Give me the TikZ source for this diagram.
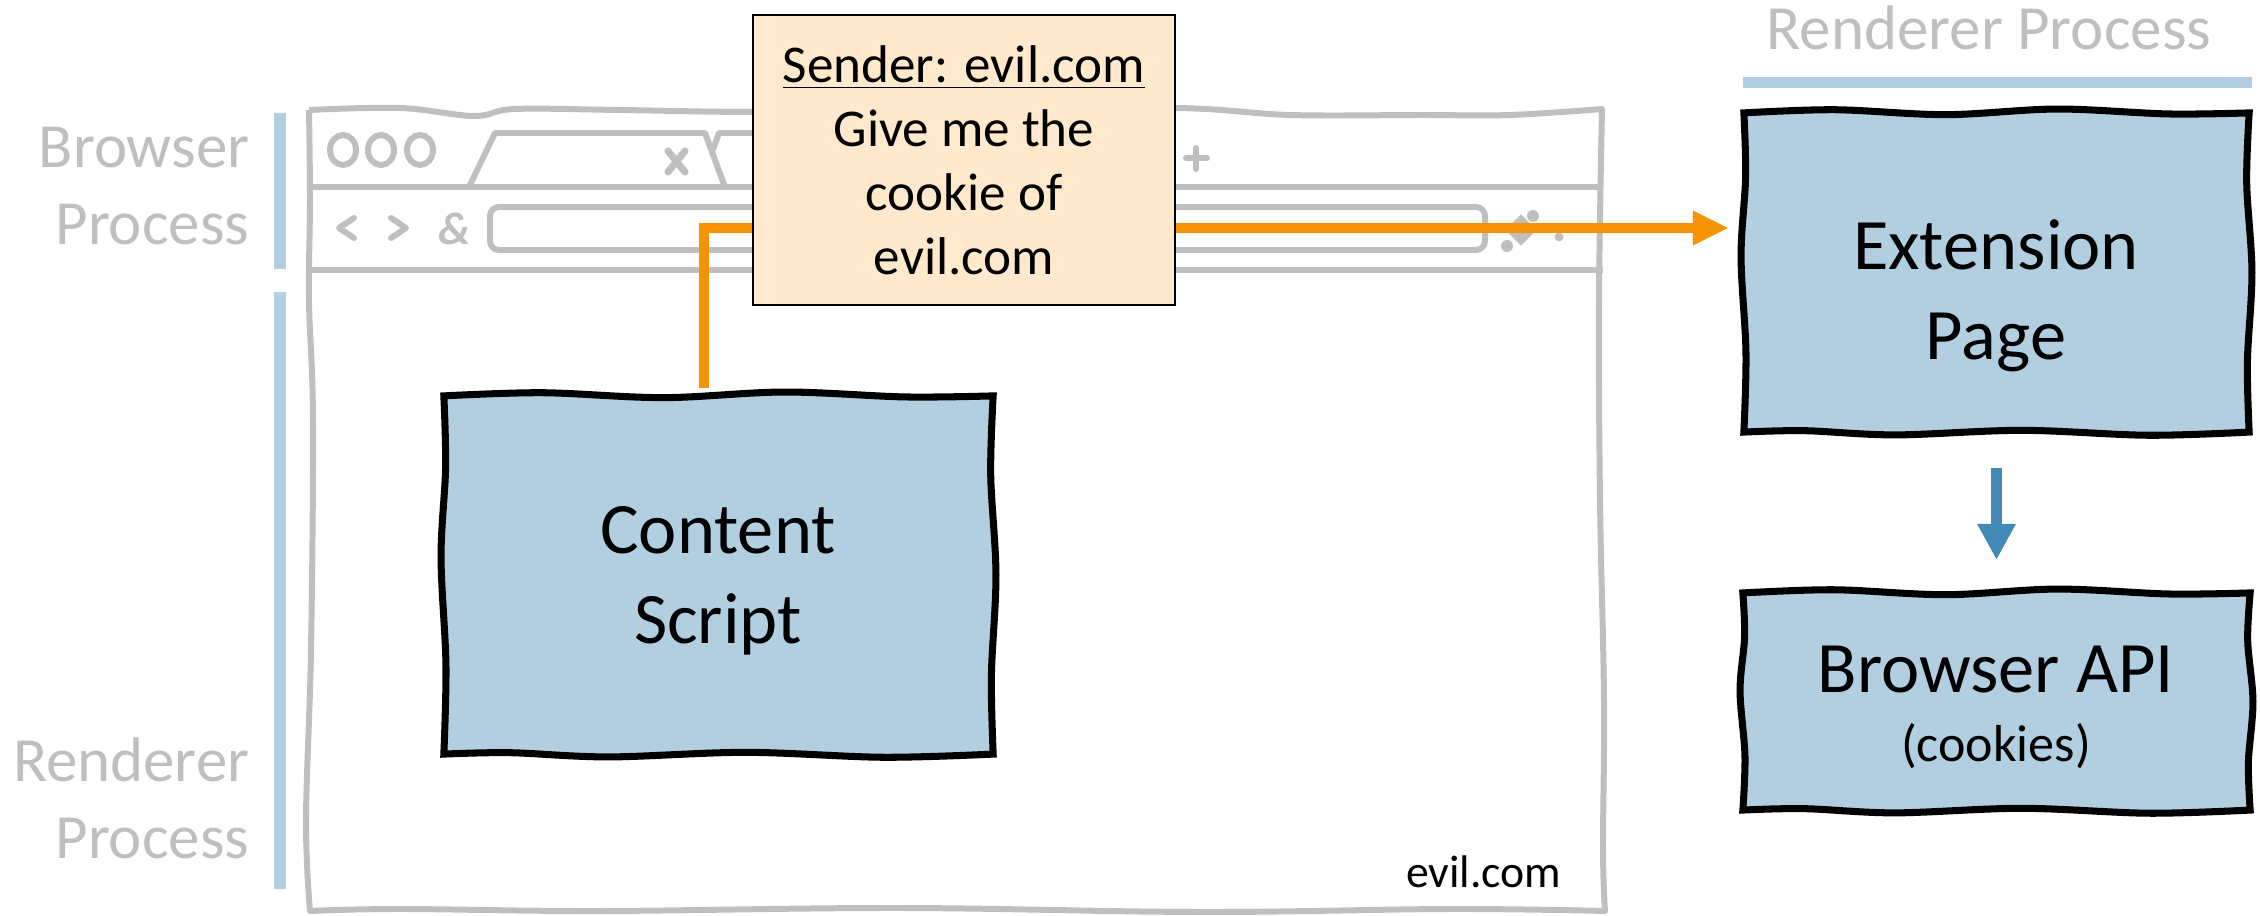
\documentclass[tikz,border=0pt]{standalone}
\usepackage{fontspec}
\setmainfont{Carlito}
\usetikzlibrary{arrows.meta,calc}

\definecolor{sketchgray}{HTML}{BFBFBF}
\definecolor{boxblue}{HTML}{B2CFE1}
\definecolor{arrowblue}{HTML}{448AB7}
\definecolor{msgorange}{HTML}{F59300}
\definecolor{msgfill}{HTML}{FFE9CC}

% hand-drawn looking outline around a (frame-only) node
\newcommand\sketchoutline[2]{%
  \path[#2]
    plot[smooth,tension=.55] coordinates {(#1.north west)
      ($(#1.north west)!.18!(#1.north east)+(0,.9pt)$)
      ($(#1.north west)!.40!(#1.north east)+(0,-.5pt)$)
      ($(#1.north west)!.62!(#1.north east)+(0,1.1pt)$)
      ($(#1.north west)!.84!(#1.north east)+(0,-.3pt)$)
      (#1.north east)}
    -- plot[smooth,tension=.55] coordinates {(#1.north east)
      ($(#1.north east)!.22!(#1.south east)+(-.7pt,0)$)
      ($(#1.north east)!.50!(#1.south east)+(.8pt,0)$)
      ($(#1.north east)!.78!(#1.south east)+(-.5pt,0)$)
      (#1.south east)}
    -- plot[smooth,tension=.55] coordinates {(#1.south east)
      ($(#1.south east)!.20!(#1.south west)+(0,-.9pt)$)
      ($(#1.south east)!.45!(#1.south west)+(0,.5pt)$)
      ($(#1.south east)!.70!(#1.south west)+(0,-.8pt)$)
      ($(#1.south east)!.88!(#1.south west)+(0,.4pt)$)
      (#1.south west)}
    -- plot[smooth,tension=.55] coordinates {(#1.south west)
      ($(#1.south west)!.25!(#1.north west)+(.6pt,0)$)
      ($(#1.south west)!.55!(#1.north west)+(-.8pt,0)$)
      ($(#1.south west)!.80!(#1.north west)+(.5pt,0)$)
      (#1.north west)}
    -- cycle;}

\tikzset{
  winline/.style={draw=sketchgray, line width=1.7pt},
  icon/.style={draw=sketchgray, line width=1.7pt, line cap=round, line join=round},
  areanode/.style={inner sep=0pt, outer sep=0pt, draw=none},
  sketchfill/.style={fill=boxblue, draw=black, line width=2pt},
  boxtext/.style={align=center, inner sep=0pt, font=\fontsize{20.6}{25.6}\selectfont},
  subtext/.style={inner sep=0pt, font=\fontsize{14.8}{17.8}\selectfont},
  proclabel/.style={text=sketchgray, inner sep=0pt, font=\fontsize{17.9}{21.9}\selectfont},
  procbar/.style={fill=boxblue},
  msgbox/.style={fill=msgfill, draw=black, line width=0.5pt, align=center,
    minimum width=4.22cm, minimum height=2.9cm, inner sep=0pt,
    font=\fontsize{15.1}{18.2}\selectfont},
  msgflow/.style={draw=msgorange, line width=3.1pt,
    -{Triangle[length=0.36cm,width=0.32cm]}},
  callflow/.style={draw=arrowblue, line width=3.1pt,
    -{Triangle[length=0.36cm,width=0.36cm]}},
}

\begin{document}
\begin{tikzpicture}[x=0.01cm, y=-0.01cm]
\useasboundingbox (0,0) rectangle (2260,916);

% process frames
\node[areanode, minimum width=5.49cm, minimum height=3.58cm] (cs) at (718.5,575) {};
\node[areanode, minimum width=5.05cm, minimum height=3.19cm] (ext) at (1996.5,272.5) {};
\node[areanode, minimum width=5.07cm, minimum height=2.17cm] (api) at (1996.5,701.5) {};

% process bars and labels
\fill[procbar] (274,113) rectangle (286,269);
\fill[procbar] (274,292) rectangle (286,889);
\fill[procbar] (1743,77) rectangle (2252,88);
\node[proclabel, align=right, anchor=east] (bp) at (250,186) {Browser\\Process};
\node[proclabel, align=right, anchor=east] (rp-left) at (250,798) {Renderer\\Process};
\node[proclabel, anchor=base] (rp-top) at (1989,50) {Renderer Process};

% browser window
\draw[winline, line join=round]
  plot[smooth,tension=.6] coordinates {(309,110) (400,108) (474,116) (515,109) (620,110) (760,112) (960,110) (1175,108) (1290,115) (1420,115) (1510,115) (1602,109)}
  -- plot[smooth,tension=.6] coordinates {(1602,109) (1599,300) (1600,500) (1604,700) (1603,850) (1605,911)}
  -- plot[smooth,tension=.6] coordinates {(1605,911) (1450,909) (1200,912) (900,908) (600,911) (400,909) (310,911)}
  -- plot[smooth,tension=.6] coordinates {(310,911) (306,820) (311,650) (313,420) (309,300) (310,200) (309,110)};
\draw[winline] (309,187) -- (1603,187);
\draw[winline] (309,270) -- (1603,270);

% window buttons
\draw[winline] (343,150) ellipse [x radius=0.13cm, y radius=0.15cm];
\draw[winline] (381,150) ellipse [x radius=0.13cm, y radius=0.15cm];
\draw[winline] (420,150) ellipse [x radius=0.13cm, y radius=0.15cm];

% tabs
\draw[winline, line join=round] (712,152) -- (719,133) -- (760,133);
\draw[winline, line join=round] (469,187) -- (495,133) -- (705,133) -- (725,187);
\draw[icon, line width=2pt] (668,151) -- (685,172);
\draw[icon, line width=2pt] (685,151) -- (668,172);
\draw[icon] (1196,148) -- (1196,169);
\draw[icon] (1186,158) -- (1207,158);

% navigation and address bar
\draw[icon] (354,218) -- (339,228) -- (354,238);
\draw[icon] (391,218) -- (406,228) -- (391,238);
\node[text=sketchgray, inner sep=0pt, font=\fontsize{13}{14}\selectfont\bfseries\itshape] (reload) at (455,229) {\&};
\draw[winline, rounded corners=0.09cm] (490,207) rectangle (1485,250);
\fill[sketchgray, rotate around={45:(1521,230)}] (1510,219) rectangle (1532,241);
\fill[sketchgray] (1533,216) circle (0.06cm);
\fill[sketchgray] (1507,246) circle (0.06cm);
\fill[sketchgray] (1559,237) circle (0.045cm);

% message from the content script to the extension page
\coordinate (bend) at (704,228);
\draw[msgflow, shorten <=0.08cm, shorten >=0.15cm] (cs.north -| bend) -- (bend) -- (bend -| ext.west);
\node[msgbox] (msg) at (964,160) {\underline{Sender: evil.com}\\Give me the\\cookie of\\evil.com};

% boxes
\sketchoutline{cs}{sketchfill}
\sketchoutline{ext}{sketchfill}
\sketchoutline{api}{sketchfill}
\node[boxtext] (cs-text) at (718,581) {Content\\Script};
\node[boxtext] (ext-text) at (1996,296) {Extension\\Page};
\node[boxtext, anchor=base] (api-text) at (1996,693) {Browser API};
\node[subtext, anchor=base] (api-sub) at (1996,762) {(cookies)};

\draw[callflow, shorten <=0.36cm, shorten >=0.33cm] (ext.south) -- (api.north);

\node[anchor=base east, inner sep=0pt, font=\fontsize{13}{15.6}\selectfont] (url) at (1562,888) {evil.com};
\end{tikzpicture}
\end{document}
